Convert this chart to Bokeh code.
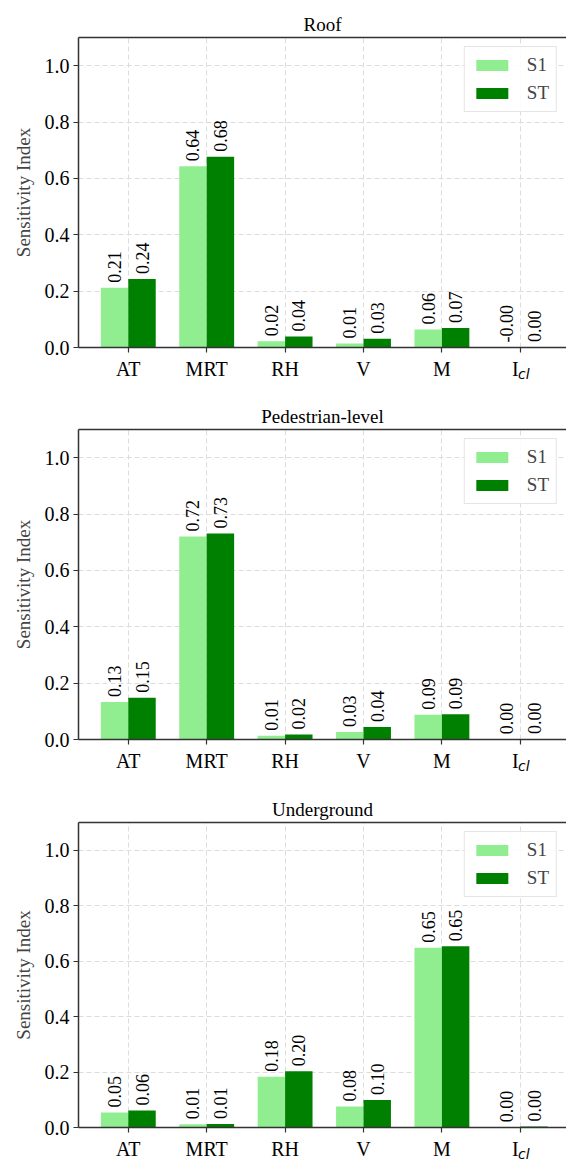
import numpy as np
from bokeh.plotting import figure
from bokeh.layouts import column
from bokeh.models import (Range1d, FixedTicker, LinearAxis, ColumnDataSource,
                          PrintfTickFormatter)
from bokeh.core.properties import value
from bokeh.embed import file_html
from bokeh.resources import INLINE

# ---------------- data ----------------
categories = ["AT", "MRT", "RH", "V", "M", "I"]
cat_subscripts = ["", "", "", "", "", "cl"]
panel_titles = ["Roof", "Pedestrian-level", "Underground"]
series_names = ["S1", "ST"]

roof_s1 = [0.212, 0.643, 0.022, 0.014, 0.064, -0.001]
roof_st = [0.243, 0.677, 0.039, 0.031, 0.069, 0.002]
ped_s1 = [0.133, 0.720, 0.013, 0.027, 0.088, 0.001]
ped_st = [0.148, 0.731, 0.018, 0.044, 0.090, 0.002]
und_s1 = [0.054, 0.012, 0.183, 0.076, 0.648, 0.001]
und_st = [0.061, 0.013, 0.203, 0.099, 0.654, 0.004]

y_ticks = [0.0, 0.2, 0.4, 0.6, 0.8, 1.0]

# ---------------- style ----------------
FONT = "Liberation Serif"
C_S1 = "#90EE90"
C_ST = "#008000"
SPINE = "#333333"
BAR_W = 0.35
NB = "\u2002"  # en space (kept by SVG) used to nudge the I / cl pieces


def make_panel(title, s1, st, height, border_bottom):
    n = len(categories)
    idx = np.arange(n)
    p = figure(width=566, height=height, output_backend="svg", toolbar_location=None,
               x_range=Range1d(-0.635, 5.589), y_range=Range1d(0, 1.1),
               min_border_left=78, min_border_right=0, min_border_top=37,
               min_border_bottom=border_bottom, title=title)
    p.title.align = "center"
    p.title.text_font = FONT
    p.title.text_font_size = "19px"
    p.title.text_font_style = "normal"
    p.title.text_color = "#000000"
    p.title.standoff = 6
    p.outline_line_color = None

    p.grid.grid_line_color = "#dcdcdc"
    p.grid.grid_line_dash = "5 3"
    p.grid.grid_line_width = 1

    src1 = ColumnDataSource(dict(x=idx - BAR_W / 2, top=s1))
    src2 = ColumnDataSource(dict(x=idx + BAR_W / 2, top=st))
    p.vbar(x="x", top="top", width=BAR_W, source=src1, fill_color=C_S1,
           line_color=None, legend_label=series_names[0])
    p.vbar(x="x", top="top", width=BAR_W, source=src2, fill_color=C_ST,
           line_color=None, legend_label=series_names[1])

    xs = list(idx - BAR_W / 2) + list(idx + BAR_W / 2)
    vals = list(s1) + list(st)
    lab = ColumnDataSource(dict(x=xs, y=[max(v, 0) for v in vals],
                                text=[f"{v:.2f}" for v in vals]))
    p.text(x="x", y="y", text="text", source=lab, angle=np.pi / 2,
           text_align="left", text_baseline="middle", y_offset=-5,
           text_font=value(FONT), text_font_size="18px", text_color="#000000")

    p.xaxis.ticker = FixedTicker(ticks=list(idx))
    p.xaxis.major_label_overrides = {
        int(i): (c + NB if sub else c) for i, (c, sub) in enumerate(zip(categories, cat_subscripts))}
    p.yaxis.ticker = FixedTicker(ticks=y_ticks)
    p.yaxis.formatter = PrintfTickFormatter(format="%.1f")
    for ax in (p.xaxis, p.yaxis):
        ax.axis_line_color = SPINE
        ax.axis_line_width = 1.5
        ax.major_tick_line_color = SPINE
        ax.major_tick_line_width = 1.2
        ax.major_tick_out = 5
        ax.major_tick_in = 0
        ax.minor_tick_line_color = None
        ax.major_label_text_font = FONT
        ax.major_label_text_font_size = "20px"
        ax.major_label_text_color = "#000000"
    p.xaxis.major_label_standoff = 5
    p.yaxis.major_label_standoff = 4
    p.yaxis.axis_label = "Sensitivity Index"
    p.yaxis.axis_label_text_font = FONT
    p.yaxis.axis_label_text_font_size = "19px"
    p.yaxis.axis_label_text_font_style = "normal"
    p.yaxis.axis_label_standoff = 8

    # subscript row ("cl" of I_cl) as a second, line-less axis pulled up under the labels
    sub_ticks = [int(i) for i, s in enumerate(cat_subscripts) if s]
    sub_ax = LinearAxis(ticker=FixedTicker(ticks=sub_ticks),
                        major_label_overrides={i: NB + cat_subscripts[i] for i in sub_ticks},
                        axis_line_color=None, major_tick_line_color=None,
                        major_tick_out=0, major_tick_in=0, minor_tick_line_color=None,
                        major_label_standoff=-17, major_label_text_font="DejaVu Sans",
                        major_label_text_font_style="italic", major_label_text_font_size="14px",
                        major_label_text_color="#000000")
    p.add_layout(sub_ax, "below")

    # top spine
    top_ax = LinearAxis(ticker=FixedTicker(ticks=[]), major_label_text_font_size="0px",
                        major_tick_out=0, major_tick_in=0, minor_tick_line_color=None,
                        axis_line_color=SPINE, axis_line_width=1.5)
    p.add_layout(top_ax, "above")

    p.legend.location = "top_right"
    p.legend.margin = 9
    p.legend.padding = 7
    p.legend.spacing = 6
    p.legend.glyph_width = 40
    p.legend.glyph_height = 14
    p.legend.label_height = 20
    p.legend.label_standoff = 15
    p.legend.label_text_font = FONT
    p.legend.label_text_font_size = "19px"
    p.legend.border_line_color = "#cccccc"
    p.legend.border_line_width = 1
    p.legend.background_fill_alpha = 0.85
    return p


p1 = make_panel(panel_titles[0], roof_s1, roof_st, 392, 45)
p2 = make_panel(panel_titles[1], ped_s1, ped_st, 393, 46)
p3 = make_panel(panel_titles[2], und_s1, und_st, 379, 32)

layout = column(p1, p2, p3, spacing=0)
open("out.html", "w").write(file_html(layout, INLINE))
